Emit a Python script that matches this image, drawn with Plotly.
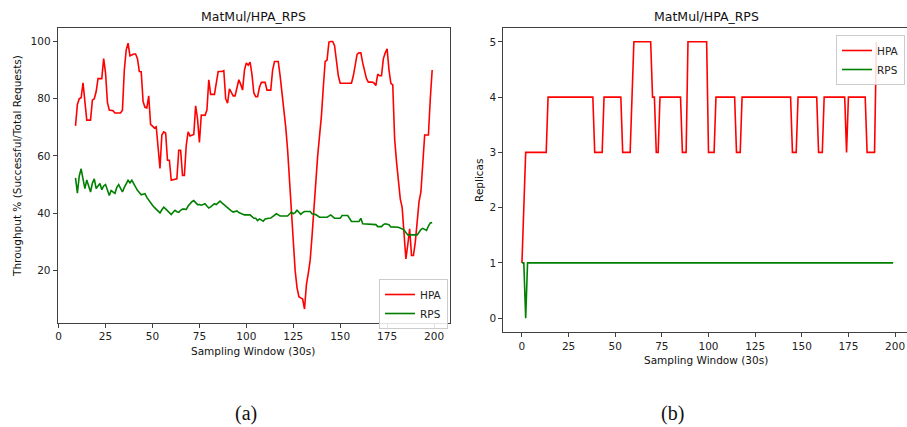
import plotly.graph_objects as go

# ---------------- Data (left panel: throughput %) ----------------
hpa_thr_x = [9, 10, 11, 12, 13, 14, 15, 17, 18, 19, 20, 21, 23, 24, 25, 26, 27, 29, 30, 33, 34, 35, 36, 37,
             38, 39, 40, 41, 42, 43, 44, 45, 46, 47, 48, 49, 50, 51, 52, 53, 54, 55, 56, 57, 58, 59, 60, 61,
             62, 63, 64, 65, 66, 67, 68, 69, 70, 71, 72, 73, 74, 75, 76, 78, 79, 80, 81, 83, 84, 85, 87, 88,
             89, 90, 91, 92, 93, 94, 95, 96, 97, 98, 99, 100, 101, 102, 103, 104, 105, 106, 107, 108, 110,
             111, 113, 114, 115, 117, 118, 119, 120, 121, 122, 123, 124, 125, 126, 127, 128, 129, 130, 131,
             132, 133, 134, 135, 136, 137, 138, 139, 140, 141, 142, 143, 144, 145, 146, 147, 148, 149, 150,
             156, 157, 158, 159, 160, 161, 162, 163, 164, 165, 167, 168, 169, 170, 171, 172, 173, 174, 175,
             176, 177, 178, 179, 180, 181, 182, 183, 184, 185, 186, 187, 188, 189, 190, 191, 192, 193, 194,
             195, 196, 197, 198, 199]
hpa_thr_y = [70.5, 78, 80, 80.3, 85.5, 78, 72.5, 72.5, 79.5, 80, 82.5, 87, 87, 94, 89, 78.7, 76, 75.8, 75,
             75, 76, 90, 97, 99.4, 95, 95.3, 95.6, 95.6, 94, 89.5, 89.4, 79, 77, 76.8, 81, 71, 70.5, 69.8,
             70.2, 62, 55.6, 67.3, 68.4, 68, 58.5, 58.5, 51.5, 51.7, 51.8, 52, 62, 62, 53.2, 53.2, 63.8,
             68.4, 67, 67.3, 67.5, 77.5, 73, 64.7, 74.3, 74.2, 76, 86.6, 81.5, 81.5, 85, 89.5, 89.5, 89.8,
             80, 78.4, 83.4, 82, 81, 81, 84, 86.6, 85, 83, 90, 92.5, 91.7, 92.8, 88.5, 82, 80.7, 80.7, 84,
             85.7, 85.7, 83, 83, 90, 93, 93, 88, 82, 77, 70, 62, 52, 40, 28, 20, 14, 10.8, 10.4, 10, 6.5,
             15, 19, 23.5, 32, 42, 52, 60, 67, 74, 84, 93, 93.5, 99.8, 100, 100, 98.5, 94, 88, 85.4,
             85.4, 88, 91.5, 95.5, 96, 96, 92.5, 90, 87, 85.8, 85.8, 85.5, 84.6, 88.6, 88, 88, 94, 96, 97.4,
             90, 85.4, 84.8, 66, 58, 50, 45, 42, 32, 24, 29, 34.5, 25.2, 25.2, 29.8, 38, 44, 47.4, 57,
             67.3, 67.3, 67.3, 80, 90]

rps_thr_x = [9, 10, 11, 12, 13, 14, 15, 16, 17, 18, 19, 20, 21, 22, 23, 24, 25, 26, 27, 28, 29, 30, 31, 32,
             33, 34, 35, 36, 37, 38, 39, 40, 41, 42, 43, 44, 45, 46, 47, 48, 49, 50, 51, 52, 53, 54, 55, 56,
             57, 58, 59, 60, 61, 62, 63, 64, 65, 66, 67, 68, 69, 70, 71, 72, 73, 74, 75, 76, 77, 78, 79, 80,
             81, 82, 83, 84, 85, 86, 87, 88, 89, 90, 91, 92, 93, 94, 95, 96, 97, 98, 99, 101, 102, 103, 104,
             105, 106, 107, 108, 109, 110, 111, 112, 113, 114, 115, 116, 117, 118, 122, 123, 124, 125, 126,
             127, 128, 129, 130, 131, 134, 135, 137, 139, 143, 144, 145, 146, 147, 150, 151, 154, 155, 156,
             160, 161, 162, 167, 169, 170, 172, 173, 174, 176, 177, 181, 182, 183, 184, 185, 186, 191, 192,
             193, 194, 195, 196, 197, 198, 199]
rps_thr_y = [52.3, 47, 53, 55.5, 52, 48.6, 51.6, 49.5, 47.4, 50.5, 52, 48.6, 49.5, 50.4, 48.2, 49.5, 50, 48,
             46.2, 47.9, 47.5, 46.9, 49, 50, 48.7, 47.4, 49, 50.5, 51.5, 50.6, 51.5, 50.3, 49, 48, 47.2,
             46.4, 46.6, 46.8, 45.5, 44.5, 43.6, 42.8, 42, 41.3, 40.7, 40.1, 41.2, 42.1, 41.5, 40.8, 40.1,
             39.5, 40.3, 41, 40.5, 40.3, 41, 41.4, 41.4, 41.3, 42.5, 43.3, 44, 44.4, 43.8, 43, 43, 42.8, 43,
             43.3, 42.5, 41.8, 42.2, 42.8, 43.3, 43, 43.6, 44.2, 43.6, 43, 42.4, 41.8, 41.3, 40.8, 40.4,
             40.6, 40.8, 40.2, 40, 39.6, 39.4, 39.4, 39.4, 38.8, 38.2, 38.2, 37.4, 38, 37.6, 37.2, 38, 38.2,
             38.2, 38.3, 38.8, 39.6, 39.8, 39.4, 39, 39, 39.8, 40.4, 39.8, 40.2, 41, 40.2, 39.6, 40.2, 40.6,
             40.6, 39.8, 39.5, 38.6, 38.6, 39, 39.4, 38.8, 38.2, 38.2, 39.2, 39.2, 38.2, 37.1, 37.1, 38.2,
             36.3, 36, 36, 35.3, 35.3, 36, 36.3, 36, 35.2, 35.1, 34.8, 34.5, 34.2, 33.2, 32.4, 32.4, 33.4,
             34.3, 34.7, 34.2, 34, 35.5, 36.6, 36.7]

# ---------------- Data (right panel: replicas) ----------------
hpa_rep_x = [0, 2, 13, 14, 38, 39, 43, 44, 53, 54, 58, 60, 69, 70, 71, 72, 73, 74, 85, 86, 88, 89, 99, 100,
             103, 104, 114, 115, 117, 118, 144, 145, 147, 148, 158, 159, 161, 162, 173, 174, 175, 184, 185,
             189, 190]
hpa_rep_y = [1, 3, 3, 4, 4, 3, 3, 4, 4, 3, 3, 5, 5, 4, 4, 3, 3, 4, 4, 3, 3, 5, 5, 3, 3, 4, 4, 3, 3, 4, 4, 3,
             3, 4, 4, 3, 3, 4, 4, 3, 4, 4, 3, 3, 5]
rps_rep_x = [0, 1, 2, 3, 199]
rps_rep_y = [1, 1, 0, 1, 1]

x_ticks = [0, 25, 50, 75, 100, 125, 150, 175, 200]
thr_ticks = [20, 40, 60, 80, 100]
rep_ticks = [0, 1, 2, 3, 4, 5]

W, H = 907, 427
FONT = "DejaVu Sans"
AX = "#404040"
RED = "#ff0000"
GREEN = "#008000"

def px(v):
    return v / W

def py(v):
    return 1 - v / H

fig = go.Figure()
fig.add_trace(go.Scatter(x=hpa_thr_x, y=hpa_thr_y, mode="lines", name="HPA",
                         line=dict(color=RED, width=1.6), xaxis="x", yaxis="y", legend="legend"))
fig.add_trace(go.Scatter(x=rps_thr_x, y=rps_thr_y, mode="lines", name="RPS",
                         line=dict(color=GREEN, width=1.6), xaxis="x", yaxis="y", legend="legend"))
fig.add_trace(go.Scatter(x=hpa_rep_x, y=hpa_rep_y, mode="lines", name="HPA",
                         line=dict(color=RED, width=1.6), xaxis="x2", yaxis="y2", legend="legend2"))
fig.add_trace(go.Scatter(x=rps_rep_x, y=rps_rep_y, mode="lines", name="RPS",
                         line=dict(color=GREEN, width=1.6), xaxis="x2", yaxis="y2", legend="legend2"))

axis_common = dict(showgrid=False, zeroline=False, showline=True, linecolor=AX, linewidth=1,
                   ticks="outside", ticklen=4, tickwidth=1, tickcolor=AX,
                   tickfont=dict(family=FONT, size=10.5, color="#222"))

fig.update_layout(
    width=W, height=H,
    margin=dict(l=0, r=0, t=0, b=0),
    paper_bgcolor="white", plot_bgcolor="white",
    font=dict(family=FONT, color="#222"),
    xaxis=dict(domain=[px(55.8), px(449)], range=[-0.5, 208.5], tickvals=x_ticks,
               anchor="y", mirror=True, **axis_common),
    yaxis=dict(domain=[py(322.5), py(28)], range=[1.8, 104.7], tickvals=thr_ticks,
               anchor="x", mirror=True, **axis_common),
    xaxis2=dict(domain=[px(502.5), 1.0], range=[-9.95, 206.4], tickvals=x_ticks,
                anchor="y2", mirror=True, **axis_common),
    yaxis2=dict(domain=[py(332), py(28)], range=[-0.25, 5.25], tickvals=rep_ticks,
                anchor="x2", mirror=False, **axis_common),
    legend=dict(x=px(447), y=py(279), xanchor="right", yanchor="top",
                bgcolor="rgba(255,255,255,0.85)", bordercolor="#cccccc", borderwidth=1,
                font=dict(family=FONT, size=10.5, color="#222"), tracegroupgap=0,
                itemwidth=30),
    legend2=dict(x=px(905), y=py(35), xanchor="right", yanchor="top",
                 bgcolor="rgba(255,255,255,0.85)", bordercolor="#cccccc", borderwidth=1,
                 font=dict(family=FONT, size=10.5, color="#222"), tracegroupgap=0,
                 itemwidth=30),
    showlegend=True,
)

annotations = [
    dict(text="MatMul/HPA_RPS", x=px(252), y=py(16), font=dict(family=FONT, size=12.5, color="#111")),
    dict(text="MatMul/HPA_RPS", x=px(706), y=py(16), font=dict(family=FONT, size=12.5, color="#111")),
    dict(text="Sampling Window (30s)", x=px(252), y=py(351), font=dict(family=FONT, size=10.5, color="#111")),
    dict(text="Sampling Window (30s)", x=px(706), y=py(360), font=dict(family=FONT, size=10.5, color="#111")),
    dict(text="Throughput % (Successful/Total Requests)", x=px(15), y=py(166), textangle=-90,
         font=dict(family=FONT, size=10.5, color="#111")),
    dict(text="Replicas", x=px(478), y=py(180), textangle=-90, font=dict(family=FONT, size=10.5, color="#111")),
    dict(text="(a)", x=px(245), y=py(413), font=dict(family="Liberation Serif", size=20, color="#111")),
    dict(text="(b)", x=px(672), y=py(413), font=dict(family="Liberation Serif", size=20, color="#111")),
]
for a in annotations:
    a.update(xref="paper", yref="paper", showarrow=False, xanchor="center", yanchor="middle")
fig.update_layout(annotations=annotations)

fig.write_html("out.html", config={"displayModeBar": False},
               post_script="document.body.style.margin='0';document.body.style.overflow='hidden';")
